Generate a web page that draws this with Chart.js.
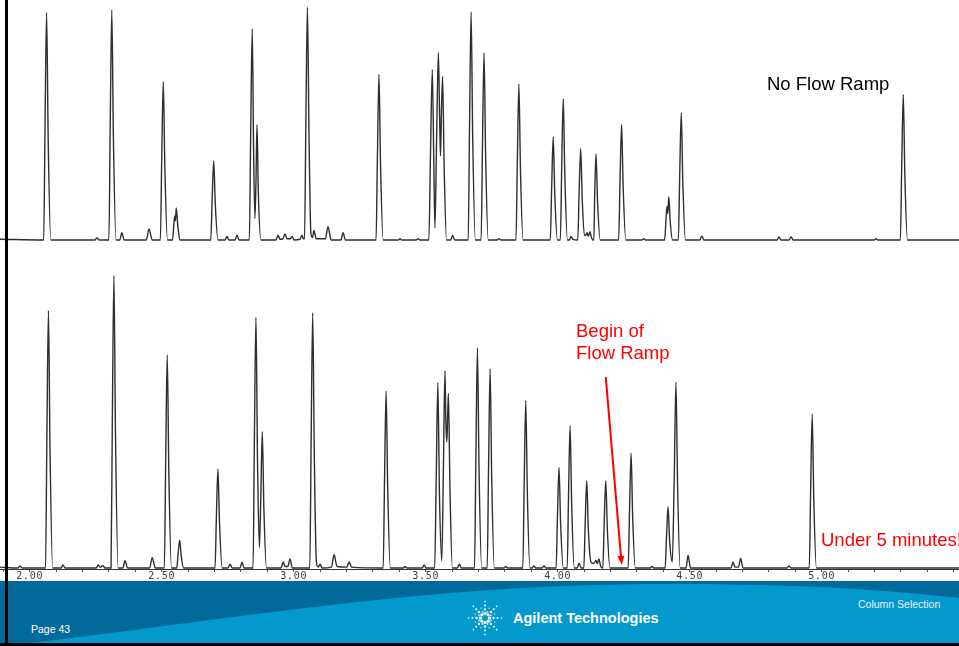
<!DOCTYPE html>
<html>
<head>
<meta charset="utf-8">
<script src="https://cdn.jsdelivr.net/npm/chart.js@4.4.0/dist/chart.umd.min.js"></script>
<style>
  html, body { margin: 0; padding: 0; background: #fff; }
  #page { position: relative; width: 959px; height: 646px; overflow: hidden; background: #fff;
          font-family: 'Liberation Sans', Arial, sans-serif; }
  #topTrace { position: absolute; left: 0; top: 0; }
  #bottomTrace { position: absolute; left: 0; top: 250px; }
  #footer { position: absolute; left: 0; top: 581px; }
  #edge { position: absolute; left: 5px; top: 0; width: 3px; height: 646px; background: #000; }
</style>
</head>
<body>
<div id="page">
  <canvas id="topTrace" width="959" height="250"></canvas>
  <canvas id="bottomTrace" width="959" height="331"></canvas>
  <svg id="footer" width="959" height="65" xmlns="http://www.w3.org/2000/svg">
    <rect x="0" y="0" width="959" height="62" fill="#016a9b"/>
    <path d="M 30 62 C 220 40 420 4 650 3 C 790 2 890 9 959 17 L 959 62 Z" fill="#0399cc"/>
    <rect x="0" y="62" width="959" height="3" fill="#000"/>
    <g id="spark" transform="translate(485,37)"></g>
    <text x="513" y="42" fill="#fff" font-family="'Liberation Sans', Arial, sans-serif" font-size="14.5" font-weight="bold">Agilent Technologies</text>
    <text x="31" y="52" fill="#fff" font-family="'Liberation Sans', Arial, sans-serif" font-size="10.5">Page 43</text>
    <text x="858" y="27" fill="#e6f3fa" font-family="'Liberation Sans', Arial, sans-serif" font-size="10.5">Column Selection</text>
  </svg>
  <div id="edge"></div>
</div>
<script>
// Retention time window shared by both runs (minutes)
const timeMin = 1.8875;
const timeMax = 5.5201;

// Axis ticks: every 0.1 min, labelled every 0.5 min
const tickValues = [1.9, 2.0, 2.1, 2.2, 2.3, 2.4, 2.5, 2.6, 2.7, 2.8, 2.9, 3.0, 3.1, 3.2, 3.3, 3.4,
  3.5, 3.6, 3.7, 3.8, 3.9, 4.0, 4.1, 4.2, 4.3, 4.4, 4.5, 4.6, 4.7, 4.8, 4.9, 5.0, 5.1, 5.2, 5.3, 5.4, 5.5];
const labelledTicks = [2.0, 2.5, 3.0, 3.5, 4.0, 4.5, 5.0];
const tickLabels = ['2.00', '2.50', '3.00', '3.50', '4.00', '4.50', '5.00'];

// Run without flow ramp: [time (min), relative response]
const noFlowRamp = [
  [1.8875,0.3],
  [2.053,0],[2.058,47],[2.064,94.7],[2.070,42],[2.080,0],
  [2.247,0],[2.255,1],[2.263,0],
  [2.300,0],[2.305,48],[2.311,95.8],[2.317,43],[2.327,0],
  [2.341,0],[2.349,3],[2.358,0],
  [2.442,0],[2.452,4.6],[2.464,0],
  [2.495,0],[2.500,33],[2.506,66],[2.512,30],[2.522,0],
  [2.541,0],[2.549,10],[2.552,8],[2.555,13.3],[2.561,6],[2.569,0],
  [2.686,0],[2.691,16.5],[2.697,33],[2.703,15],[2.713,0],
  [2.740,0],[2.747,1.5],[2.755,0],[2.778,0],[2.785,2],[2.793,0],
  [2.832,0],[2.837,44],[2.843,88],[2.848,38],[2.853,9],[2.857,24],[2.861,48],[2.866,20],[2.876,0],
  [2.933,0],[2.941,2],[2.948,0.3],[2.958,0.3],[2.967,2.5],[2.975,0.5],[2.986,0.5],[2.994,1.5],[3.002,0],
  [3.024,0.3],[3.031,2],[3.037,0.5],
  [3.041,0.5],[3.046,48],[3.052,97],[3.058,44],[3.065,3],
  [3.071,1],[3.077,4],[3.085,0.5],[3.120,0.5],[3.130,5.5],[3.142,0],[3.179,0],[3.187,3],[3.196,0],
  [3.312,0],[3.317,34],[3.323,69],[3.329,31],[3.339,0],
  [3.396,0],[3.403,0.5],[3.410,0],[3.464,0],[3.471,0.5],[3.478,0],
  [3.512,0],[3.518,35],[3.525,71],[3.531,30],[3.535,5],[3.541,40],[3.548,78],[3.553,50],[3.556,35],
  [3.560,55],[3.564,68],[3.570,30],[3.579,0],
  [3.595,0],[3.602,2],[3.610,0],
  [3.661,0],[3.666,47],[3.672,95],[3.678,43],[3.688,0],
  [3.710,0],[3.715,39],[3.721,78],[3.727,35],[3.737,0],
  [3.771,0],[3.778,0.5],[3.785,0],
  [3.842,0],[3.847,32],[3.853,65],[3.859,29],[3.869,0],
  [3.972,0],[3.977,21],[3.983,43],[3.989,19],[3.999,0],
  [4.010,0],[4.015,29],[4.021,59],[4.027,27],[4.037,0],
  [4.044,0],[4.050,1.5],[4.058,0.3],
  [4.076,0],[4.081,19],[4.087,38],[4.093,17],[4.101,2],
  [4.106,2],[4.111,3],[4.116,1.5],[4.122,3.5],[4.128,1],[4.133,0],
  [4.137,0],[4.140,18],[4.145,36],[4.151,16],[4.161,0],
  [4.231,0],[4.236,24],[4.242,48],[4.248,22],[4.258,0],
  [4.319,0],[4.326,0.5],[4.333,0],
  [4.405,0],[4.411,10],[4.414,14],[4.417,11],[4.421,18],[4.426,8],[4.435,0],
  [4.457,0],[4.462,26],[4.468,53],[4.474,24],[4.484,0],
  [4.538,0],[4.546,1.7],[4.554,0],
  [4.831,0],[4.838,1.3],[4.846,0],[4.876,0],[4.884,1.3],[4.892,0],
  [5.199,0],[5.206,0.5],[5.213,0],
  [5.298,0],[5.303,30],[5.309,60.6],[5.315,27],[5.325,0],
  [5.5201,0]
];

// Run with flow ramp: [time (min), relative response]
const withFlowRamp = [
  [1.8875,0.3],
  [1.956,0],[1.963,0.7],[1.971,0],
  [2.060,0],[2.065,43],[2.071,85.8],[2.077,39],[2.087,0],
  [2.119,0],[2.126,1],[2.134,0],
  [2.252,0],[2.259,1],[2.267,0.3],[2.278,0.8],[2.285,0],
  [2.308,0],[2.313,49],[2.319,97.4],[2.325,44],[2.335,0],
  [2.353,0],[2.361,2.4],[2.371,0],
  [2.454,0],[2.464,3.4],[2.476,0],
  [2.510,0],[2.515,35],[2.521,71],[2.527,32],[2.537,0],
  [2.557,0],[2.562,4.5],[2.568,9.3],[2.574,4],[2.583,0],
  [2.702,0],[2.707,16.5],[2.713,33],[2.719,15],[2.729,0],
  [2.751,0],[2.759,1.3],[2.767,0],[2.797,0],[2.804,1.9],[2.812,0],
  [2.846,0],[2.851,42],[2.857,83.5],[2.863,35],[2.870,6.9],[2.875,22],[2.881,45.5],[2.887,20],[2.897,0],
  [2.952,0],[2.960,2],[2.967,0.5],[2.978,0.5],[2.986,3],[2.995,0],
  [3.061,0],[3.066,42],[3.072,85],[3.078,38],[3.086,2],
  [3.093,0.3],[3.100,1.3],[3.107,0],[3.143,0.3],[3.153,4.4],[3.164,0.5],[3.201,0.3],[3.210,2],[3.219,0.3],
  [3.339,0],[3.344,29],[3.350,59],[3.356,27],[3.366,0],
  [3.415,0],[3.422,0.5],[3.429,0],[3.487,0],[3.494,1],[3.501,0],
  [3.534,0],[3.540,31],[3.546,61.8],[3.552,25],[3.561,2.4],[3.567,33],[3.573,65.8],[3.576,50],[3.580,42],
  [3.583,50],[3.586,58.2],[3.592,26],[3.601,0],
  [3.620,0],[3.627,1.3],[3.635,0],
  [3.685,0],[3.690,36],[3.696,73.3],[3.702,33],[3.712,0],
  [3.733,0],[3.738,33],[3.744,66.4],[3.750,30],[3.760,0],
  [3.796,0],[3.803,0.5],[3.810,0],
  [3.868,0],[3.873,28],[3.879,55.8],[3.885,25],[3.895,0],
  [3.903,0],[3.910,0.7],[3.917,0],[3.941,0],[3.948,0.7],[3.955,0],
  [3.994,0],[3.999,17],[4.005,33.5],[4.011,15],[4.021,0],
  [4.036,0],[4.041,24],[4.047,47.4],[4.053,21],[4.063,0],
  [4.074,0],[4.081,1.6],[4.089,0],
  [4.099,0],[4.104,14.5],[4.110,29.1],[4.116,13],[4.126,2],
  [4.136,1.5],[4.145,2.5],[4.150,1.5],[4.156,3],[4.163,0.5],
  [4.171,0],[4.176,14.5],[4.182,29.1],[4.188,13],[4.198,0],
  [4.267,0],[4.272,19],[4.278,38.3],[4.284,17],[4.294,0],
  [4.350,0],[4.357,0.5],[4.364,0],
  [4.407,0],[4.412,10],[4.418,20.4],[4.424,9],[4.434,2],[4.441,28],[4.448,61.9],[4.454,28],[4.464,0],
  [4.486,0],[4.494,4.3],[4.503,0],
  [4.656,0],[4.664,1.9],[4.672,0.3],[4.685,0.3],[4.693,3.2],[4.702,0],
  [4.869,0],[4.876,0.7],[4.884,0],
  [4.953,0],[4.958,25.5],[4.964,51.3],[4.970,23],[4.980,0],
  [5.5201,0]
];

const toXY = pts => pts.map(([x, y]) => ({ x, y }));
const traceStyle = {
  borderColor: '#2e2e2e', borderWidth: 1.4, pointRadius: 0,
  cubicInterpolationMode: 'monotone', fill: false
};

// Caption on the upper run
const upperCaption = {
  id: 'upperCaption',
  afterDatasetsDraw(chart) {
    const ctx = chart.ctx;
    ctx.save();
    ctx.fillStyle = '#000';
    ctx.font = '18.5px "Liberation Sans", Arial, sans-serif';
    ctx.textBaseline = 'alphabetic';
    ctx.fillText('No Flow Ramp', 767, 90);
    ctx.restore();
  }
};

// Wider letter spacing for the time axis digits
const axisLetterSpacing = {
  id: 'axisLetterSpacing',
  beforeDraw(chart) { chart.ctx.letterSpacing = '0.7px'; },
  afterDatasetsDraw(chart) { chart.ctx.letterSpacing = '0px'; }
};

// Red notes and arrow on the lower run
const rampNotes = {
  id: 'rampNotes',
  afterDatasetsDraw(chart) {
    const { ctx, scales: { x, y } } = chart;
    ctx.save();
    ctx.letterSpacing = '0px';
    ctx.fillStyle = '#ff0000';
    ctx.strokeStyle = '#ff0000';
    ctx.font = '18.5px "Liberation Sans", Arial, sans-serif';
    ctx.textBaseline = 'alphabetic';
    ctx.fillText('Begin of', 576, 87);
    ctx.fillText('Flow Ramp', 576, 109);
    ctx.fillText('Under 5 minutes!', 821, 296);

    const x0 = x.getPixelForValue(4.182), y0 = y.getPixelForValue(63.7);
    const x1 = x.getPixelForValue(4.2424), y1 = y.getPixelForValue(1.0);
    const ang = Math.atan2(y1 - y0, x1 - x0);
    const head = 9, half = 3.5;
    const bx = x1 - head * Math.cos(ang), by = y1 - head * Math.sin(ang);
    ctx.lineWidth = 2;
    ctx.beginPath();
    ctx.moveTo(x0, y0);
    ctx.lineTo(bx, by);
    ctx.stroke();
    ctx.beginPath();
    ctx.moveTo(x1, y1);
    ctx.lineTo(bx + half * Math.sin(ang), by - half * Math.cos(ang));
    ctx.lineTo(bx - half * Math.sin(ang), by + half * Math.cos(ang));
    ctx.closePath();
    ctx.fill();
    ctx.restore();
  }
};

new Chart(document.getElementById('topTrace'), {
  type: 'line',
  data: { datasets: [{ data: toXY(noFlowRamp), ...traceStyle }] },
  options: {
    responsive: false, animation: false, devicePixelRatio: 1,
    layout: { padding: 0 },
    plugins: { legend: { display: false }, tooltip: { enabled: false } },
    scales: {
      x: { type: 'linear', min: timeMin, max: timeMax, display: false },
      y: { min: -4.17, max: 100, display: false }
    }
  },
  plugins: [upperCaption]
});

new Chart(document.getElementById('bottomTrace'), {
  type: 'line',
  data: { datasets: [{ data: toXY(withFlowRamp), ...traceStyle }] },
  options: {
    responsive: false, animation: false, devicePixelRatio: 1,
    layout: { padding: 0 },
    plugins: { legend: { display: false }, tooltip: { enabled: false } },
    scales: {
      x: {
        type: 'linear', min: timeMin, max: timeMax, position: 'bottom',
        afterBuildTicks(scale) { scale.ticks = tickValues.map(v => ({ value: v })); },
        afterFit(scale) { scale.height = 12; },
        grid: { drawOnChartArea: false, drawTicks: true, tickLength: 3, color: '#555', lineWidth: 1 },
        border: { display: true, color: '#333', width: 1 },
        ticks: {
          autoSkip: false, maxRotation: 0, minRotation: 0, padding: -2,
          color: '#3a3a3a', font: { family: '"DejaVu Sans Mono", monospace', size: 10 },
          callback(value) {
            const i = labelledTicks.findIndex(t => Math.abs(t - value) < 1e-6);
            return i >= 0 ? tickLabels[i] : '';
          }
        }
      },
      y: { min: -0.33, max: 106, display: false }
    }
  },
  plugins: [axisLetterSpacing, rampNotes]
});

// Agilent spark mark in the footer
const spark = document.getElementById('spark');
const NS = 'http://www.w3.org/2000/svg';
for (let k = 0; k < 8; k++) {
  const a = k * Math.PI / 4;
  [[4.5, 1.6], [8.5, 1.2], [12.5, 1.0], [16.5, 0.8]].forEach(([r, s]) => {
    const c = document.createElementNS(NS, 'circle');
    c.setAttribute('cx', (r * Math.cos(a)).toFixed(2));
    c.setAttribute('cy', (r * Math.sin(a)).toFixed(2));
    c.setAttribute('r', s);
    c.setAttribute('fill', '#fff');
    spark.appendChild(c);
  });
  const b = a + Math.PI / 8;
  [[6.5, 0.9], [10.5, 0.7]].forEach(([r, s]) => {
    const c = document.createElementNS(NS, 'circle');
    c.setAttribute('cx', (r * Math.cos(b)).toFixed(2));
    c.setAttribute('cy', (r * Math.sin(b)).toFixed(2));
    c.setAttribute('r', s);
    c.setAttribute('fill', '#fff');
    c.setAttribute('opacity', '0.8');
    spark.appendChild(c);
  });
}
</script>
</body>
</html>
